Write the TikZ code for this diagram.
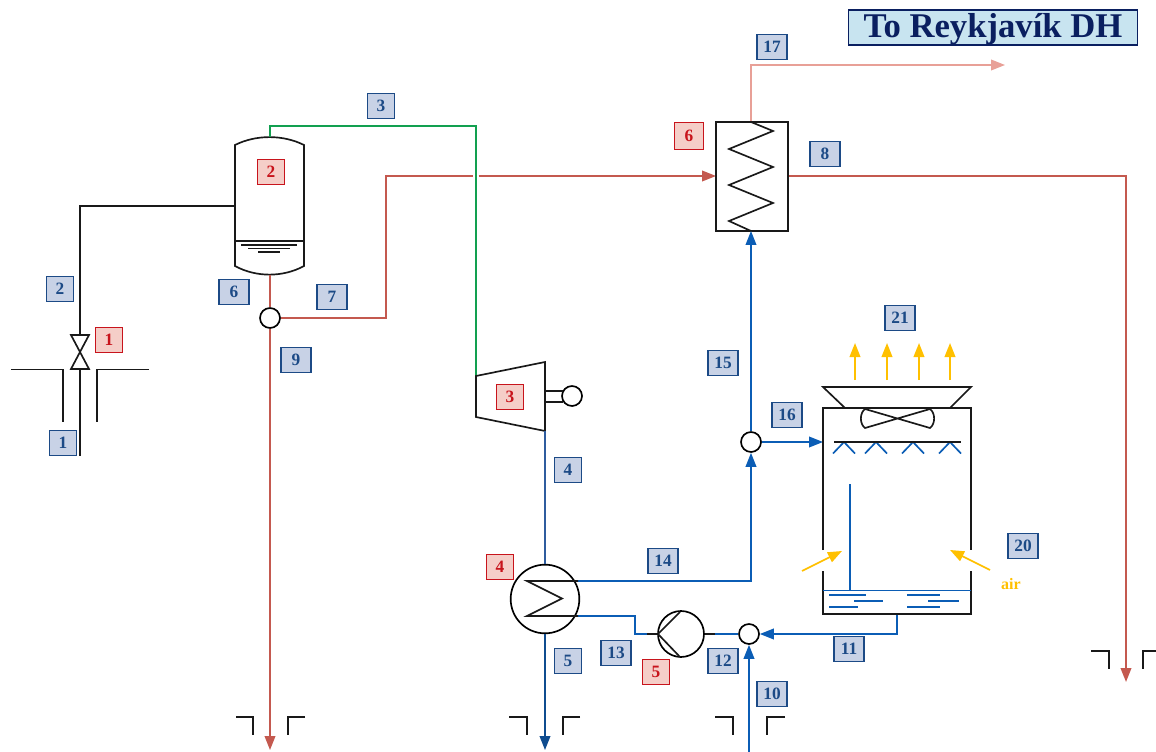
\documentclass[tikz,border=0pt]{standalone}
\usepackage{fontspec}
\setmainfont{Liberation Serif}
\usetikzlibrary{arrows.meta}
\definecolor{hot}{HTML}{C4594F}
\definecolor{pale}{HTML}{E8A097}
\definecolor{cold}{HTML}{0B5DB5}
\definecolor{steam}{HTML}{2F5C9E}
\definecolor{deep}{HTML}{0F4C8F}
\definecolor{wet}{HTML}{12A050}
\definecolor{airc}{HTML}{FFC000}
\definecolor{lblfill}{HTML}{C8D2E6}
\definecolor{lbledge}{HTML}{1C4A86}
\definecolor{tagfill}{HTML}{F5CEC8}
\definecolor{tagedge}{HTML}{C8141C}
\definecolor{titlefill}{HTML}{C8E4F0}
\definecolor{titleink}{HTML}{0A1F60}
\tikzset{
  x=0.75pt,y=-0.75pt,
  pipe/.style={line width=1.25pt,line join=miter},
  blk/.style={pipe,black!90},
  tip/.style={-{Triangle[length=10.5pt,width=8pt]}},
  lbl/.style={draw=lbledge,fill=lblfill,text=lbledge,line width=1.2pt,font=\fontsize{13}{14}\selectfont\bfseries,minimum height=18.5pt,minimum width=20pt,inner sep=0pt},
  lblw/.style={lbl,minimum width=22.5pt},
  tag/.style={draw=tagedge,fill=tagfill,text=tagedge,line width=1.2pt,font=\fontsize{13}{14}\selectfont\bfseries,minimum height=18.5pt,minimum width=20pt,inner sep=0pt},
  junc/.style={circle,draw=black,fill=white,line width=1.25pt,minimum size=15pt,inner sep=0pt},
  corner/.style={blk,line width=1.15pt},
}
\begin{document}
\begin{tikzpicture}
\useasboundingbox (0,0) rectangle (1156,752);
% junction nodes
\node[junc] (j1) at (270,318) {};
\node[junc] (j2) at (751,442) {};
\node[junc] (j3) at (749,634) {};
\node[junc] (gen) at (572,396) {};
\node[junc,minimum size=51.5pt] (cond) at (545,599) {};
\node[junc,minimum size=34.5pt] (pump) at (681,634) {};
% named points
\coordinate (vtop) at (80,335); \coordinate (vbot) at (80,369); \coordinate (vmid) at (80,352);
\coordinate (wellb) at (80,456);
\coordinate (drumL) at (235,206);
\coordinate (drumT) at (270,137); \coordinate (drumB) at (270,275);
\coordinate (turbIn) at (476,376); \coordinate (turbOut) at (545,431);
\coordinate (hxL) at (716,176); \coordinate (hxR) at (788,176);
\coordinate (hxT) at (751,122); \coordinate (hxB) at (751,231);
\coordinate (c1) at (578,581); \coordinate (c2) at (578,616);
\coordinate (towL) at (823,442); \coordinate (towB) at (897,614);
% wells
\draw[corner] (11,369.5)--(63,369.5)--(63,422);
\draw[corner] (149,369.5)--(97,369.5)--(97,422);
\foreach \xa/\xb/\xc/\xd/\y in {236/253/288/305/717,509/527/563/580/717,715/733/767/785/717,1091/1109/1143/1156/651}{
  \draw[corner] (\xa,\y)--(\xb,\y)--(\xb,\y+18);
  \draw[corner] (\xd,\y)--(\xc,\y)--(\xc,\y+18);
}
% well and separator feed
\draw[blk] (vbot)--(wellb);
\draw[blk] (vtop)--(80,206)--(drumL);
% valve
\draw[blk,fill=white] (71,335)--(89,335)--(71,369)--(89,369)--cycle;
% drum
\draw[blk,fill=white] (235,145) .. controls (256,134.5) and (283,134.5) .. (304,145)--(304,266) .. controls (283,277.5) and (256,277.5) .. (235,266)--cycle;
\draw[pipe,wet] (drumT)--(270,126)--(476,126)--(turbIn);
\draw[blk] (235,241)--(304,241);
\draw[blk,line width=1pt] (241,245)--(297,245) (248,248.5)--(290,248.5) (258,252)--(280,252);
% red lines
\draw[pipe,hot] (drumB)--(j1);
\draw[pipe,hot,tip] (j1.south)--(270,750);
\draw[pipe,hot] (j1.east)--(386,318)--(386,176)--(472.5,176);
\draw[pipe,hot,tip] (478.5,176)--(hxL);
\draw[pipe,hot,tip] (hxR)--(1126,176)--(1126,682);
\draw[pipe,pale,tip] (hxT)--(751,65)--(1005,65);
% DH exchanger
\draw[blk,fill=white] (716,122) rectangle (788,231);
\draw[blk] (hxT)--(773,131)--(729,149)--(773,167)--(729,185)--(773,203)--(729,221)--(hxB);
% turbine
\draw[blk,fill=white] (turbIn)--(545,362)--(turbOut)--(476,417)--cycle;
\draw[blk] (545,391)--(563,391) (545,402)--(563,402);
% blue
\draw[pipe,steam] (turbOut)--(cond.north);
\draw[pipe,deep,tip] (cond.south)--(545,750);
\draw[pipe,cold,tip] (c1)--(751,581)--(j2.south);
\draw[pipe,cold,tip] (j2.north)--(hxB);
\draw[pipe,cold,tip] (j2.east)--(towL);
\draw[pipe,cold] (c2)--(635,616)--(635,634)--(647,634);
\draw[pipe,cold] (715,634)--(j3.west);
\draw[pipe,cold,tip] (towB)--(897,634)--(j3.east);
\draw[pipe,cold,tip] (749,752)--(j3.south);
% condenser
\draw[blk] (578,581)--(527,581)--(562,598.5)--(527,616)--(578,616);
% pump
\draw[blk] (647,634)--(pump.west) (pump.east)--(715,634);
\draw[blk] (680,612)--(658,634)--(680,657);
% cooling tower
\draw[blk] (823,550)--(823,408)--(971,408)--(971,550);
\draw[blk] (823,571)--(823,614)--(971,614)--(971,571);
\draw[blk] (845,408)--(823,387)--(971,387)--(950,408);
\draw[blk] (865,409)--(930,428) .. controls (935.5,424) and (935.5,413) .. (930,409)--(865,428) .. controls (859.5,424) and (859.5,413) .. (865,409)--cycle;
\foreach \n in {844,876,913,950}{
  \draw[pipe,cold] (\n-11,453.5)--(\n,442)--(\n+11,453.5);
}
\draw[blk] (834,442)--(961,442);
\draw[pipe,cold] (850,484)--(850,590.5);
\draw[pipe,cold] (823,590.5)--(971,590.5);
\draw[pipe,cold,line width=1.1pt] (829,595)--(866,595) (854,601)--(883,601) (829,607)--(858,607)
  (907,595)--(940,595) (928,601)--(959,601) (907,607)--(940,607);
% yellow arrows
\foreach \n in {855,887,919,950}{
  \draw[pipe,airc,tip] (\n,380)--(\n,343);
}
\draw[pipe,airc,tip] (802,571)--(842,551);
\draw[pipe,airc,tip] (990,570)--(950,550);
\node[text=airc,font=\fontsize{12}{13}\selectfont\bfseries,inner sep=0pt] (air) at (1011,584) {air};
% title
\node[draw=titleink,fill=titlefill,text=titleink,line width=1.2pt,font=\fontsize{26}{27}\selectfont\bfseries,minimum width=217pt,text height=21pt,text depth=5.25pt,inner sep=0pt] (title) at (993,27.5) {To Reykjavík DH};
% labels
\node[lbl] (s1) at (63,443) {1};
\node[lbl] (s2) at (60,289) {2};
\node[lbl] (s3) at (381,106) {3};
\node[lbl] (s4) at (568,470) {4};
\node[lbl] (s5) at (568,661) {5};
\node[lblw] (s6) at (234,292) {6};
\node[lblw] (s7) at (332,297) {7};
\node[lblw] (s8) at (825,154) {8};
\node[lblw] (s9) at (296,360) {9};
\node[lblw] (s10) at (772,694) {10};
\node[lblw] (s11) at (849,649) {11};
\node[lblw] (s12) at (723,661) {12};
\node[lblw] (s13) at (616,653) {13};
\node[lblw] (s14) at (663,561) {14};
\node[lblw] (s15) at (723,363) {15};
\node[lblw] (s16) at (787,415) {16};
\node[lblw] (s17) at (772,47) {17};
\node[lblw] (s20) at (1023,546) {20};
\node[lblw] (s21) at (900,318) {21};
\node[tag] (t1) at (109,340) {1};
\node[tag] (t2) at (271,172) {2};
\node[tag] (t3) at (510,397) {3};
\node[tag] (t4) at (500,567) {4};
\node[tag] (t5) at (656,672) {5};
\node[tag,minimum width=21.5pt,minimum height=20.5pt] (t6) at (689,136) {6};
\end{tikzpicture}
\end{document}
